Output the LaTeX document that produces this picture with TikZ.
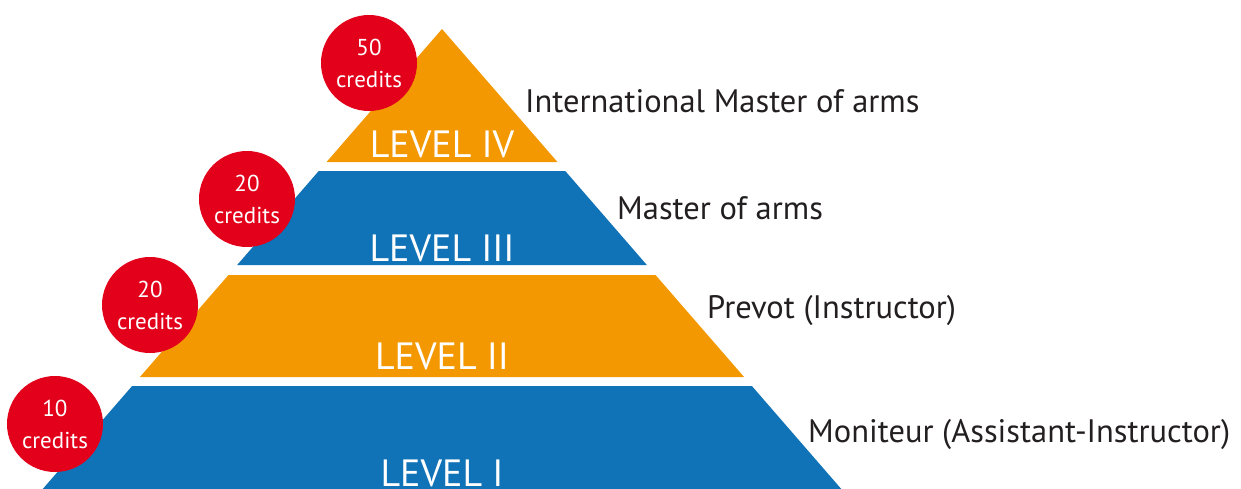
\documentclass[tikz,border=0pt]{standalone}
\usepackage{fontspec}
\setmainfont{PT Sans}
\usetikzlibrary{positioning}
\definecolor{pyrorange}{RGB}{243,152,0}
\definecolor{pyrblue}{RGB}{17,115,183}
\definecolor{credred}{RGB}{226,0,26}
\definecolor{captext}{RGB}{35,31,32}
\tikzset{credit/.style={circle,fill=credred,minimum size=96pt,inner sep=0pt,text=white,align=center,font=\fontsize{23}{32}\selectfont},
         level label/.style={text=white,font=\fontsize{38}{38}\selectfont,anchor=base,inner sep=0pt},
         rank label/.style={text=captext,font=\fontsize{32.5}{33}\selectfont,anchor=base west,inner sep=0pt}
}
\begin{document}
\begin{tikzpicture}[x=1pt,y=-1pt]
\useasboundingbox (0,0) rectangle (1241,488);
\def\apx{442}\def\apy{29}\def\slope{0.868}
% pyramid bands
\foreach \ytop/\ybot/\col in {29/162/pyrorange,171/265/pyrblue,275/377/pyrorange,386/510/pyrblue}
  \fill[\col] ({\apx-\slope*(\ytop-\apy)},\ytop) -- ({\apx+\slope*(\ytop-\apy)},\ytop)
     -- ({\apx+\slope*(\ybot-\apy)},\ybot) -- ({\apx-\slope*(\ybot-\apy)},\ybot) -- cycle;

\node[level label] (lv4) at (442,157) {LEVEL IV};
\node[level label] (lv3) at (442,261) {LEVEL III};
\node[level label] (lv2) at (442,369) {LEVEL II};
\node[level label] (lv1) at (442,486) {LEVEL I};

\node[rank label] (rk4) at (525,112) {International Master of arms};
\node[rank label] (rk3) at (617,219) {Master of arms};
\node[rank label] (rk2) at (707,318) {Prevot (Instructor)};
\node[rank label] (rk1) at (808,442) {Moniteur (Assistant-Instructor)};

\node[credit] (cr4) at (369,63) {50\\credits};
\node[credit] (cr3) at (247,199) {20\\credits};
\node[credit] (cr2) at (150,305) {20\\credits};
\node[credit] (cr1) at (55,424) {10\\credits};
\end{tikzpicture}
\end{document}
